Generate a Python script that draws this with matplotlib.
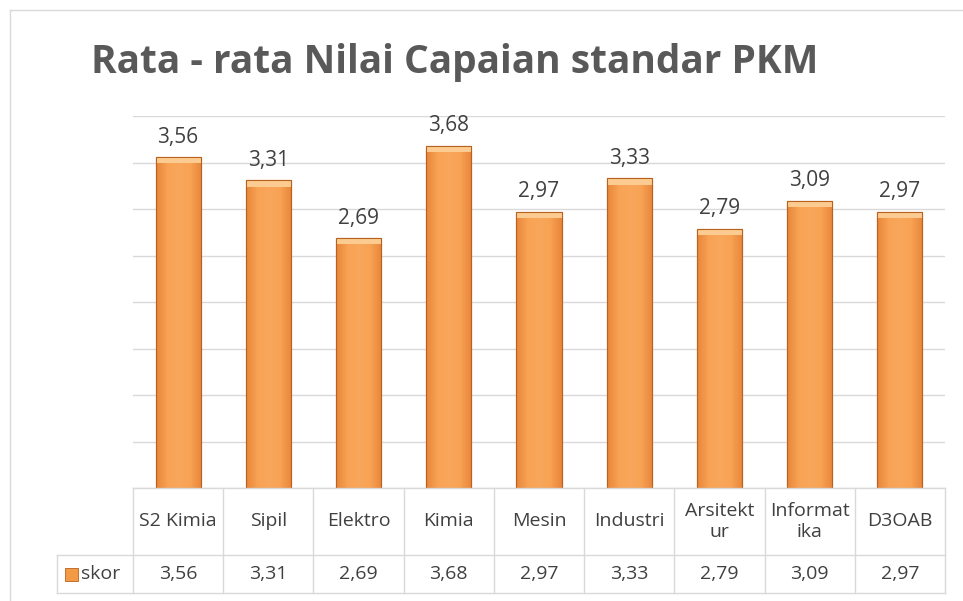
import numpy as np
import matplotlib.pyplot as plt
from matplotlib.colors import LinearSegmentedColormap
from matplotlib.lines import Line2D
from matplotlib.patches import Rectangle

# data
kategori = ['S2 Kimia', 'Sipil', 'Elektro', 'Kimia', 'Mesin', 'Industri',
            'Arsitekt\nur', 'Informat\nika', 'D3OAB']
skor = [3.56, 3.31, 2.69, 3.68, 2.97, 3.33, 2.79, 3.09, 2.97]
label_skor = [f'{v:.2f}'.replace('.', ',') for v in skor]

plt.rcParams['font.family'] = ['Open Sans', 'DejaVu Sans']

fig = plt.figure(figsize=(9.63, 6.01), dpi=100)
W, H = 963, 601
ax = fig.add_axes([133 / W, 1 - 488 / H, (945 - 133) / W, (488 - 116) / H])

x = np.arange(len(kategori))
bars = ax.bar(x, skor, width=0.5, color='#F8A254', edgecolor='#B8621F',
              linewidth=0.8, zorder=2)

# gradien horizontal tipis di setiap batang
cmap = LinearSegmentedColormap.from_list(
    'oranye', ['#E8863A', '#F8A254', '#F9A75C', '#F8A254', '#E8863A'])
grad = np.linspace(0, 1, 64).reshape(1, -1)
for b in bars:
    bx, bw, bh = b.get_x(), b.get_width(), b.get_height()
    im = ax.imshow(grad, extent=[bx, bx + bw, 0, bh], aspect='auto',
                   cmap=cmap, zorder=2.1)
    im.set_clip_path(b)
    # bevel atas
    ax.add_patch(Rectangle((bx, bh - 0.07), bw, 0.07, facecolor='#FCCB92',
                           edgecolor='none', zorder=2.2))
    ax.add_patch(Rectangle((bx, 0), bw, bh, facecolor='none',
                           edgecolor='#B8621F', linewidth=0.8, zorder=2.3))

for xi, v, t in zip(x, skor, label_skor):
    ax.text(xi, v + 0.1, t, ha='center', va='bottom', fontsize=15,
            color='#404040')

ax.set_xlim(-0.5, len(kategori) - 0.5)
ax.set_ylim(0, 4)
ax.set_yticks(np.arange(0, 4.01, 0.5))
ax.yaxis.grid(True, color='#D9D9D9', linewidth=1)
ax.set_axisbelow(True)
ax.tick_params(left=False, bottom=False, labelleft=False, labelbottom=False)
for s in ax.spines.values():
    s.set_visible(False)

# tabel data di bawah grafik
garis = dict(color='#D9D9D9', linewidth=1, transform=fig.transFigure)
def fy(py):
    return 1 - py / H
def fx(px):
    return px / W

x_kiri, x_kanan = 133, 945
y0, y1, y2 = 488, 555, 593
fig.add_artist(Line2D([fx(x_kiri), fx(x_kanan)], [fy(y0)] * 2, **garis))
fig.add_artist(Line2D([fx(57), fx(x_kanan)], [fy(y1)] * 2, **garis))
fig.add_artist(Line2D([fx(57), fx(x_kanan)], [fy(y2)] * 2, **garis))
fig.add_artist(Line2D([fx(57)] * 2, [fy(y1), fy(y2)], **garis))
col_w = (x_kanan - x_kiri) / len(kategori)
for i in range(len(kategori) + 1):
    px = x_kiri + i * col_w
    fig.add_artist(Line2D([fx(px)] * 2, [fy(y0), fy(y2)], **garis))
for i, (k, t) in enumerate(zip(kategori, label_skor)):
    cx = x_kiri + (i + 0.5) * col_w
    fig.text(fx(cx), fy((y0 + y1) / 2), k, ha='center', va='center',
             fontsize=14, color='#404040', linespacing=1.2)
    fig.text(fx(cx), fy((y1 + y2) / 2), t, ha='center', va='center',
             fontsize=14, color='#404040')

# kunci legenda
fig.add_artist(Rectangle((fx(65), fy(581)), 13 / W, 13 / H,
                         transform=fig.transFigure, facecolor='#F39A45',
                         edgecolor='#B8621F', linewidth=0.6))
fig.text(fx(81), fy((y1 + y2) / 2), 'skor', ha='left', va='center',
         fontsize=14, color='#404040')

# bingkai area grafik
fig.add_artist(Line2D([fx(10), fx(10)], [fy(10), 0], **garis))
fig.add_artist(Line2D([fx(10), 1], [fy(10), fy(10)], **garis))

fig.text(fx(455), fy(63), 'Rata - rata Nilai Capaian standar PKM',
         ha='center', va='center', fontsize=28, fontweight='bold',
         color='#595959')

fig.savefig('out.png', dpi=100)
